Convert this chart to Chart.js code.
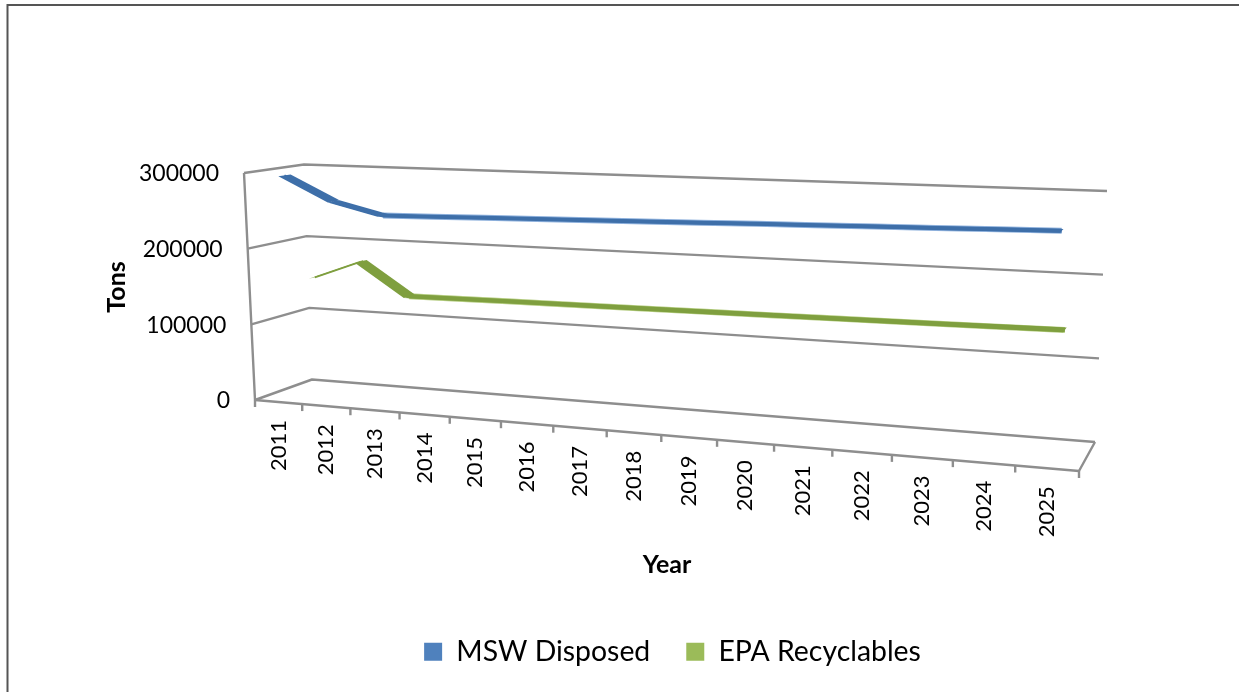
<!DOCTYPE html>
<html>
<head>
<meta charset="utf-8">
<title>MSW Disposed and EPA Recyclables</title>
<script src="https://cdn.jsdelivr.net/npm/chart.js@4"></script>
<style>
  html, body { margin: 0; padding: 0; background: #fff; }
  canvas { display: block; }
</style>
</head>
<body>
<canvas id="chart" width="1239" height="692"></canvas>
<script>
/* chart data */
const years = ['2011', '2012', '2013', '2014', '2015', '2016', '2017', '2018', '2019', '2020', '2021', '2022', '2023', '2024', '2025'];
const mswDisposed = [295000, 263000, 247400, 249000, 250600, 252200, 253800, 255400, 257000, 258700, 260300, 261900, 263400, 265000, 266600];
const epaRecyclables = [150000, 175000, 132000, 132600, 133200, 133700, 134200, 134700, 135200, 135800, 136400, 137100, 137800, 138600, 139400];
const yTicks = [0, 100000, 200000, 300000];

/* box corners of the 3-D plot as they sit on the page: [x, y] */
const BOX = {
  frontBottomLeft: [255, 400], frontBottomRight: [1079, 471],
  frontTopLeft: [244, 173], frontTopRight: [1091, 208],
  backBottomLeft: [312, 379.5], backBottomRight: [1095, 442],
  backTopLeft: [304, 164.5], backTopRight: [1107, 191],
};
const X_PERSPECTIVE = 1.175;
const GRID_COLOR = '#8e8e8e';
const TEXT_COLOR = '#000';
const FONT = 'Lato, sans-serif';

function mix(a, b, t) {
  return [a[0] + (b[0] - a[0]) * t, a[1] + (b[1] - a[1]) * t];
}

// u, v, d are all 0..1: along the years, up the value axis, into the depth
function project(u, v, d) {
  const s = u / (u + X_PERSPECTIVE * (1 - u));
  const front = mix(mix(BOX.frontBottomLeft, BOX.frontBottomRight, s), mix(BOX.frontTopLeft, BOX.frontTopRight, s), v);
  const back = mix(mix(BOX.backBottomLeft, BOX.backBottomRight, s), mix(BOX.backTopLeft, BOX.backTopRight, s), v);
  return mix(front, back, d);
}

function scaleUV(chart, index, value) {
  const area = chart.chartArea;
  const u = (chart.scales.x.getPixelForValue(index) - area.left) / (area.right - area.left);
  const v = (area.bottom - chart.scales.y.getPixelForValue(value)) / (area.bottom - area.top);
  return [u, v];
}

function strokePath(ctx, pts) {
  ctx.beginPath();
  pts.forEach(function (p, i) {
    if (i === 0) ctx.moveTo(p[0], p[1]);
    else ctx.lineTo(p[0], p[1]);
  });
  ctx.stroke();
}

const perspective3d = {
  id: 'perspective3d',

  // move the line points from the flat scales onto the depth plane of their series
  afterDatasetsUpdate(chart) {
    chart.data.datasets.forEach(function (ds, i) {
      const meta = chart.getDatasetMeta(i);
      meta.data.forEach(function (pt, j) {
        const uv = scaleUV(chart, j, ds.data[j]);
        const p = project(uv[0], uv[1], ds.depth);
        pt.x = p[0];
        pt.y = p[1];
      });
    });
  },

  beforeDatasetsDraw(chart) {
    const ctx = chart.ctx;
    const yScale = chart.scales.y;
    const area = chart.chartArea;
    ctx.save();

    // page frame
    ctx.strokeStyle = '#555';
    ctx.lineWidth = 2;
    strokePath(ctx, [[7.5, 692], [7.5, 5], [1239, 5]]);

    ctx.strokeStyle = GRID_COLOR;
    ctx.lineWidth = 2.4;
    ctx.lineJoin = 'round';

    // walls
    yTicks.forEach(function (tick) {
      const v = (area.bottom - yScale.getPixelForValue(tick)) / (area.bottom - area.top);
      strokePath(ctx, [project(0, v, 0), project(0, v, 1), project(1, v, 1)]);
    });
    strokePath(ctx, [project(0, 1, 0), project(0, 0, 0), project(1, 0, 0), project(1, 0, 1)]);

    // tick marks on the year axis
    for (let i = 0; i <= years.length; i++) {
      const p = project(i / years.length, 0, 0);
      strokePath(ctx, [p, [p[0], p[1] + 7]]);
    }

    // value labels
    ctx.fillStyle = TEXT_COLOR;
    ctx.font = '23px ' + FONT;
    ctx.textAlign = 'right';
    ctx.textBaseline = 'middle';
    yTicks.forEach(function (tick) {
      const v = (area.bottom - yScale.getPixelForValue(tick)) / (area.bottom - area.top);
      const p = project(0, v, 0);
      ctx.fillText(String(tick), p[0] - 25, p[1] + 1);
    });

    // year labels, rotated, hanging under the axis
    ctx.font = '22px ' + FONT;
    years.forEach(function (year, i) {
      const uv = scaleUV(chart, i, 0);
      const p = project(uv[0], 0, 0);
      ctx.save();
      ctx.translate(p[0], p[1] + 18);
      ctx.rotate(-Math.PI / 2);
      ctx.fillText(year, 0, 0);
      ctx.restore();
    });

    // axis titles
    ctx.font = 'bold 25px ' + FONT;
    ctx.textAlign = 'center';
    ctx.fillText('Year', 667, 565);
    ctx.save();
    ctx.translate(117, 287);
    ctx.rotate(-Math.PI / 2);
    ctx.fillText('Tons', 0, 0);
    ctx.restore();

    ctx.restore();
  },

  // the ribbon of each series, running through the depth of the plot
  beforeDatasetDraw(chart, args) {
    const ds = chart.data.datasets[args.index];
    const ctx = chart.ctx;
    ctx.save();

    // soft lighter edge along the flat part of the ribbon
    ctx.strokeStyle = ds.edgeColor;
    ctx.lineWidth = 6;
    ctx.lineJoin = 'round';
    const flat = [];
    for (let j = 2; j < ds.data.length; j++) {
      const uv = scaleUV(chart, j, ds.data[j]);
      flat.push(project(uv[0], uv[1], ds.depth));
    }
    strokePath(ctx, flat);

    ctx.fillStyle = ds.borderColor;
    for (let j = 0; j < ds.data.length - 1; j++) {
      const a = scaleUV(chart, j, ds.data[j]);
      const b = scaleUV(chart, j + 1, ds.data[j + 1]);
      const quad = [
        project(a[0], a[1], ds.depth - ds.ribbon),
        project(b[0], b[1], ds.depth - ds.ribbon),
        project(b[0], b[1], ds.depth + ds.ribbon),
        project(a[0], a[1], ds.depth + ds.ribbon),
      ];
      ctx.beginPath();
      quad.forEach(function (p, i) {
        if (i === 0) ctx.moveTo(p[0], p[1]);
        else ctx.lineTo(p[0], p[1]);
      });
      ctx.closePath();
      ctx.fill();
    }
    ctx.restore();
  },
};

// the first stretch runs almost along the depth, so it looks thin
const ribbonSegment = {
  borderWidth: function (c) { return c.p0DataIndex === 0 ? 2 : 4; },
};

new Chart(document.getElementById('chart'), {
  type: 'line',
  plugins: [perspective3d],
  data: {
    labels: years,
    datasets: [
      {
        label: 'MSW Disposed',
        data: mswDisposed,
        borderColor: '#3e6fa9',
        backgroundColor: '#4f81bd',
        edgeColor: '#8db0dc',
        borderWidth: 4,
        segment: ribbonSegment,
        pointRadius: 0,
        tension: 0,
        depth: 0.275,
        ribbon: 0.105,
      },
      {
        label: 'EPA Recyclables',
        data: epaRecyclables,
        borderColor: '#7f9f3f',
        backgroundColor: '#9bbb59',
        edgeColor: '#b4cc80',
        borderWidth: 4,
        segment: ribbonSegment,
        pointRadius: 0,
        tension: 0,
        depth: 0.725,
        ribbon: 0.105,
      },
    ],
  },
  options: {
    responsive: false,
    animation: false,
    layout: { padding: { left: 106, bottom: 16 } },
    scales: {
      x: { display: false, offset: true },
      y: { display: false, min: 0, max: 300000 },
    },
    plugins: {
      tooltip: { enabled: false },
      legend: {
        position: 'bottom',
        labels: {
          color: TEXT_COLOR,
          font: { family: FONT, size: 28.4 },
          boxWidth: 18,
          boxHeight: 18,
          padding: 36,
          generateLabels(chart) {
            return chart.data.datasets.map(function (ds, i) {
              return { text: ds.label, fillStyle: ds.backgroundColor, strokeStyle: ds.backgroundColor, lineWidth: 0, datasetIndex: i };
            });
          },
        },
      },
    },
  },
});
</script>
</body>
</html>
